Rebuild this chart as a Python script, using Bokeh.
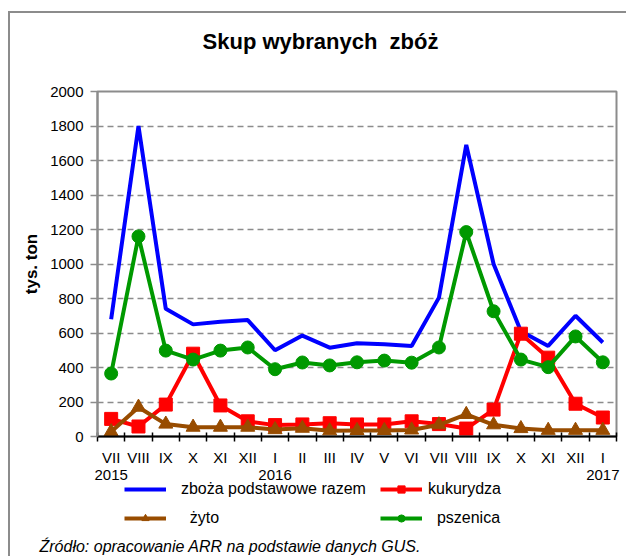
from bokeh.plotting import figure
from bokeh.models import (FixedTicker, Legend, LegendItem, Range1d, Label, LinearAxis)
from bokeh.layouts import column
from bokeh.embed import file_html
from bokeh.resources import INLINE

# ---- data ----
months = ["VII", "VIII", "IX", "X", "XI", "XII", "I", "II", "III", "IV", "V", "VI",
          "VII", "VIII", "IX", "X", "XI", "XII", "I"]
years = ["2015", "2016", "2017"]
year_index = [0, 6, 18]
razem = [680, 1800, 740, 650, 665, 675, 500, 585, 515, 540, 535, 525,
         805, 1690, 1000, 610, 525, 700, 545]
kukurydza = [102, 58, 185, 480, 180, 88, 66, 70, 77, 70, 70, 88,
             72, 46, 156, 596, 457, 190, 110]
zyto = [28, 170, 72, 54, 54, 54, 40, 48, 33, 35, 35, 38,
        68, 128, 68, 46, 36, 36, 36]
pszenica = [365, 1160, 498, 446, 498, 516, 390, 429, 412, 430, 440, 428,
            516, 1185, 726, 446, 402, 580, 430]
yticks = list(range(0, 2001, 200))
series_names = ["zboża podstawowe razem", "kukurydza", "żyto", "pszenica"]
title_text = "Skup wybranych  zbóż"
source_text = "Źródło: opracowanie ARR na podstawie danych GUS."

FONT = "Liberation Sans"
NB = "\u00a0"
BLUE, RED, BROWN, GREEN = "#0000FF", "#FF0000", "#984C00", "#009900"
x = [i + 0.5 for i in range(len(months))]


def bare(height, **kw):
    f = figure(width=616, height=height, output_backend="svg", toolbar_location=None,
               x_range=Range1d(0, 1), y_range=Range1d(0, 1),
               min_border=0, min_border_left=0, min_border_right=0,
               min_border_top=0, min_border_bottom=0, **kw)
    f.frame_align = False
    f.axis.visible = False
    f.grid.visible = False
    f.outline_line_color = None
    f.background_fill_alpha = 0
    f.border_fill_alpha = 0
    return f


# ---- title strip ----
pt = bare(57)
pt.add_layout(Label(x=310, y=29, x_units="screen", y_units="screen",
                    text=title_text.replace("  ", NB + " "),
                    text_align="center", text_baseline="middle", text_font=FONT,
                    text_font_size="22px", text_font_style="bold", text_color="black"))

# ---- main chart ----
p = figure(width=616, height=426, output_backend="svg", toolbar_location=None,
           x_range=Range1d(0, len(months)), y_range=Range1d(0, 2000),
           min_border_left=87, min_border_right=10, min_border_top=21,
           min_border_bottom=60)
p.background_fill_color = "white"
p.border_fill_alpha = 0
p.outline_line_color = "#8c8c8c"
p.outline_line_width = 2

p.xgrid.grid_line_color = None
p.ygrid.ticker = FixedTicker(ticks=yticks)
p.ygrid.grid_line_color = "#8c8c8c"
p.ygrid.grid_line_width = 1.5
p.ygrid.grid_line_dash = "6 4"

xa = p.xaxis[0]
xa.ticker = FixedTicker(ticks=x, minor_ticks=list(range(len(months) + 1)))
xa.major_label_overrides = {xi: t for xi, t in zip(x, months)}
xa.major_tick_line_color = None
xa.major_tick_out = 5
xa.major_tick_in = 0
xa.minor_tick_line_color = "black"
xa.minor_tick_line_width = 1.5
xa.minor_tick_in = 4
xa.minor_tick_out = 5
xa.axis_line_color = "black"
xa.axis_line_width = 2
xa.major_label_text_font = FONT
xa.major_label_text_font_size = "15px"
xa.major_label_text_color = "black"
xa.major_label_standoff = 7

year_x = [x[i] for i in year_index]
ax2 = LinearAxis(ticker=FixedTicker(ticks=year_x, minor_ticks=[]),
                 major_label_overrides={xi: y for xi, y in zip(year_x, years)},
                 axis_line_color=None, major_tick_line_color=None,
                 minor_tick_line_color=None, major_tick_out=0, major_tick_in=0,
                 major_label_standoff=1, major_label_text_font=FONT,
                 major_label_text_font_size="15px", major_label_text_color="black")
p.add_layout(ax2, "below")

ya = p.yaxis[0]
ya.ticker = FixedTicker(ticks=yticks)
ya.axis_line_color = "#8c8c8c"
ya.axis_line_width = 2
ya.major_tick_line_color = "#8c8c8c"
ya.major_tick_line_width = 1.5
ya.major_tick_in = 0
ya.major_tick_out = 7
ya.minor_tick_line_color = None
ya.major_label_text_font = FONT
ya.major_label_text_font_size = "15px"
ya.major_label_text_color = "black"
ya.major_label_standoff = 7
ya.axis_label = "tys. ton"
ya.axis_label_text_font = FONT
ya.axis_label_text_font_size = "17px"
ya.axis_label_text_font_style = "bold"
ya.axis_label_text_color = "black"
ya.axis_label_standoff = 6

p.line(x, razem, line_color=BLUE, line_width=4)
p.line(x, kukurydza, line_color=RED, line_width=4)
p.scatter(x, kukurydza, marker="square", size=13, fill_color=RED, line_color=RED)
p.line(x, zyto, line_color=BROWN, line_width=4)
p.scatter(x, zyto, marker="triangle", size=14, fill_color=BROWN, line_color=BROWN)
p.line(x, pszenica, line_color=GREEN, line_width=4)
p.scatter(x, pszenica, marker="circle", size=13, fill_color=GREEN, line_color=GREEN)

# ---- legend + source strip (series drawn off-range; only legend samples show) ----
pb = bare(86)
pb.styles = {"margin-top": "-26px"}
e1 = pb.line(x, razem, line_color=BLUE, line_width=4)
e2 = pb.line(x, kukurydza, line_color=RED, line_width=4)
m2 = pb.scatter(x, kukurydza, marker="square", size=13, fill_color=RED, line_color=RED)
e3 = pb.line(x, zyto, line_color=BROWN, line_width=4)
m3 = pb.scatter(x, zyto, marker="triangle", size=14, fill_color=BROWN, line_color=BROWN)
e4 = pb.line(x, pszenica, line_color=GREEN, line_width=4)
m4 = pb.scatter(x, pszenica, marker="circle", size=13, fill_color=GREEN, line_color=GREEN)
legend = Legend(items=[
    LegendItem(label=NB * 2 + series_names[0], renderers=[e1]),
    LegendItem(label=series_names[1], renderers=[e2, m2]),
    LegendItem(label=NB * 4 + series_names[2], renderers=[e3, m3]),
    LegendItem(label=NB * 2 + series_names[3], renderers=[e4, m4]),
], orientation="horizontal", ncols=2, location=(114, 29),
   glyph_width=42, glyph_height=18, label_height=18,
   label_width=197, label_standoff=6, padding=0, margin=0, spacing=11,
   border_line_color=None, background_fill_alpha=0,
   label_text_font=FONT, label_text_font_size="16px", label_text_color="black")
pb.add_layout(legend, "center")
pb.add_layout(Label(x=29, y=10, x_units="screen", y_units="screen", text=source_text,
                    text_align="left", text_baseline="middle", text_font=FONT,
                    text_font_size="16px", text_font_style="italic", text_color="black"))

layout = column(pt, p, pb, spacing=0,
                styles={"margin-left": "8px", "margin-top": "11px",
                        "border-left": "2px solid #8c8c8c",
                        "border-top": "2px solid #8c8c8c"})

open("out.html", "w").write(file_html(layout, INLINE))
